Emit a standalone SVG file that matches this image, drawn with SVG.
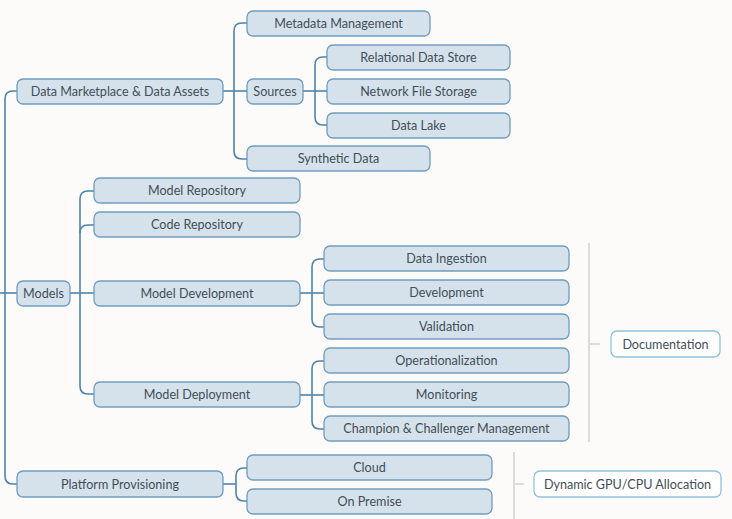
<svg xmlns="http://www.w3.org/2000/svg" width="732" height="519" viewBox="0 0 732 519">
<style>
.n rect{fill:#d6e2eb;stroke:#6f9dbf;stroke-width:1.3}
.w rect{fill:#ffffff;stroke:#8ec3da;stroke-width:1.3}
text{font-family:"Lato","Liberation Sans",sans-serif;font-size:12.6px;fill:#434e58;text-anchor:middle;dominant-baseline:central}
.c path{fill:none;stroke:#4b84ad;stroke-width:1.6}
.g path{fill:none;stroke:#dcdcd8;stroke-width:2}
</style>
<rect width="732" height="519" fill="#fcfbfa"/>
<g class="c">
<path d="M17,91 H13 Q5,91 5,99 V476 Q5,484 13,484 H17"/>
<path d="M0,293 H17"/>
<path d="M223,91 H247"/>
<path d="M247,23 H242 Q234,23 234,31 V151 Q234,159 242,159 H247"/>
<path d="M303,91 H327"/>
<path d="M327,57 H323 Q315,57 315,65 V117 Q315,125 323,125 H327"/>
<path d="M70,293 H94"/>
<path d="M94,191 H88 Q80,191 80,199 V386 Q80,394 88,394 H94"/>
<path d="M94,225 H88 Q80,225 80,233"/>
<path d="M300,293 H324"/>
<path d="M324,259 H320 Q312,259 312,267 V319 Q312,327 320,327 H324"/>
<path d="M300,395 H324"/>
<path d="M324,361 H320 Q312,361 312,369 V421 Q312,429 320,429 H324"/>
<path d="M223,484 H236"/>
<path d="M247,468 H244 Q236,468 236,476 V493 Q236,501 244,501 H247"/>
</g>
<g class="g">
<path d="M589,243 V442 M589,344 H600"/>
<path d="M514,452 V519 M514,484 H524"/>
</g>
<g id="data-marketplace" class="n"><rect x="17" y="79" width="206" height="25" rx="6"/><text x="120" y="91.5">Data Marketplace &amp; Data Assets</text></g>
<g id="metadata" class="n"><rect x="247" y="11" width="183" height="25" rx="6"/><text x="338.5" y="23.5">Metadata Management</text></g>
<g id="sources" class="n"><rect x="247" y="79" width="56" height="25" rx="6"/><text x="275" y="91.5">Sources</text></g>
<g id="relational" class="n"><rect x="327" y="45" width="183" height="25" rx="6"/><text x="418.5" y="57.5">Relational Data Store</text></g>
<g id="nfs" class="n"><rect x="327" y="79" width="183" height="25" rx="6"/><text x="418.5" y="91.5">Network File Storage</text></g>
<g id="datalake" class="n"><rect x="327" y="113" width="183" height="25" rx="6"/><text x="418.5" y="125.5">Data Lake</text></g>
<g id="synthetic" class="n"><rect x="247" y="146" width="183" height="25" rx="6"/><text x="338.5" y="158.5">Synthetic Data</text></g>
<g id="models" class="n"><rect x="17" y="281" width="53" height="25" rx="6"/><text x="43.5" y="293.5">Models</text></g>
<g id="model-repo" class="n"><rect x="94" y="178" width="206" height="25" rx="6"/><text x="197" y="190.5">Model Repository</text></g>
<g id="code-repo" class="n"><rect x="94" y="212" width="206" height="25" rx="6"/><text x="197" y="224.5">Code Repository</text></g>
<g id="model-dev" class="n"><rect x="94" y="281" width="206" height="25" rx="6"/><text x="197" y="293.5">Model Development</text></g>
<g id="model-deploy" class="n"><rect x="94" y="382" width="206" height="25" rx="6"/><text x="197" y="394.5">Model Deployment</text></g>
<g id="ingestion" class="n"><rect x="324" y="246" width="245" height="25" rx="6"/><text x="446.5" y="258.5">Data Ingestion</text></g>
<g id="development" class="n"><rect x="324" y="280" width="245" height="25" rx="6"/><text x="446.5" y="292.5">Development</text></g>
<g id="validation" class="n"><rect x="324" y="314" width="245" height="25" rx="6"/><text x="446.5" y="326.5">Validation</text></g>
<g id="operationalization" class="n"><rect x="324" y="348" width="245" height="25" rx="6"/><text x="446.5" y="360.5">Operationalization</text></g>
<g id="monitoring" class="n"><rect x="324" y="382" width="245" height="25" rx="6"/><text x="446.5" y="394.5">Monitoring</text></g>
<g id="champion" class="n"><rect x="324" y="416" width="245" height="25" rx="6"/><text x="446.5" y="428.5">Champion &amp; Challenger Management</text></g>
<g id="documentation" class="w"><rect x="611" y="331" width="109" height="26" rx="6"/><text x="665.5" y="344.5">Documentation</text></g>
<g id="platform" class="n"><rect x="17" y="471" width="206" height="26" rx="6"/><text x="120" y="484.5">Platform Provisioning</text></g>
<g id="cloud" class="n"><rect x="247" y="455" width="245" height="25" rx="6"/><text x="369.5" y="467.5">Cloud</text></g>
<g id="onpremise" class="n"><rect x="247" y="489" width="245" height="25" rx="6"/><text x="369.5" y="501.5">On Premise</text></g>
<g id="gpu" class="w"><rect x="534" y="471" width="187" height="26" rx="6"/><text x="627.5" y="484.5">Dynamic GPU/CPU Allocation</text></g>
</svg>
